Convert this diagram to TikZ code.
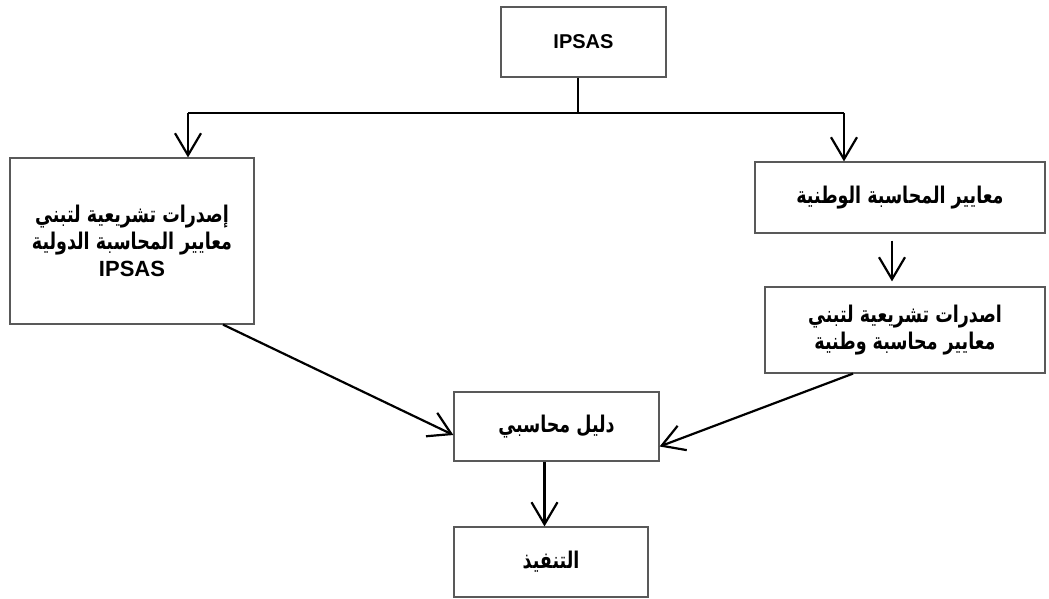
\documentclass[tikz,border=0pt]{standalone}
\usepackage{fontspec}
\setmainfont{Liberation Sans}
\newfontfamily\arabicfont[Script=Arabic, FakeStretch=0.76]{DejaVu Sans}
\TeXXeTstate=1
\usetikzlibrary{arrows.meta}
\newcommand{\ar}[1]{{\arabicfont\fontsize{11.5}{13.5}\selectfont\beginR #1\endR}}
\tikzset{
  box/.style={draw=black!65, line width=0.6pt, align=center, inner sep=2pt,
    font=\bfseries\fontsize{10}{13.5}\selectfont},
  arr/.style={line width=1.1pt, -{Straight Barb[length=11pt, width=13pt, line width=1.1pt]}}
}

\begin{document}
\begin{tikzpicture}[x=0.5pt, y=-0.5pt]
\useasboundingbox (0,0) rectangle (1049,599);
% Boxes
\node [box, minimum width=82.5pt, minimum height=35pt] (ipsas) at (583.5,42) {IPSAS};
\node [box, minimum width=122pt, minimum height=83pt] (intl) at (132,241)
  {\ar{إصدرات تشريعية لتبني}\\ \ar{معايير المحاسبة الدولية}\\ {\fontsize{11}{13.5}\selectfont IPSAS}};
\node [box, minimum width=145pt, minimum height=35.5pt] (natl) at (900,197.5)
  {\ar{معايير المحاسبة الوطنية}};
\node [box, minimum width=140pt, minimum height=43pt] (legis) at (905,330)
  {\ar{اصدرات تشريعية لتبني}\\ \ar{معايير محاسبة وطنية}};
\node [box, minimum width=102.5pt, minimum height=34.5pt] (guide) at (556.5,426.5)
  {\ar{دليل محاسبي}};
\node [box, minimum width=97pt, minimum height=35pt] (exec) at (551,562)
  {\ar{التنفيذ}};
% Split
\coordinate (split) at (578,113);
\coordinate (lft) at (188,113);
\coordinate (rgt) at (844,113);
\draw [line width=1.1pt] (ipsas.south -| split) -- (split);
\draw [line width=1.1pt] (lft) -- (rgt);
\draw [arr] (lft) -- (lft |- intl.north);
\draw [arr] (rgt) -- (rgt |- natl.north);
% Arrows
\draw [arr, shorten <=3.5pt, shorten >=2.5pt] ([xshift=-4pt]natl.south) -- ([xshift=-4pt]natl.south |- legis.north);
\draw [arr] ([xshift=45.5pt]intl.south) -- ([yshift=-4.25pt]guide.west);
\draw [arr] ([xshift=-26pt]legis.south) -- ([yshift=-10pt]guide.east);
\draw [arr] ([xshift=-6pt]guide.south) -- ([xshift=-6pt]guide.south |- exec.north);
\end{tikzpicture}
\end{document}
